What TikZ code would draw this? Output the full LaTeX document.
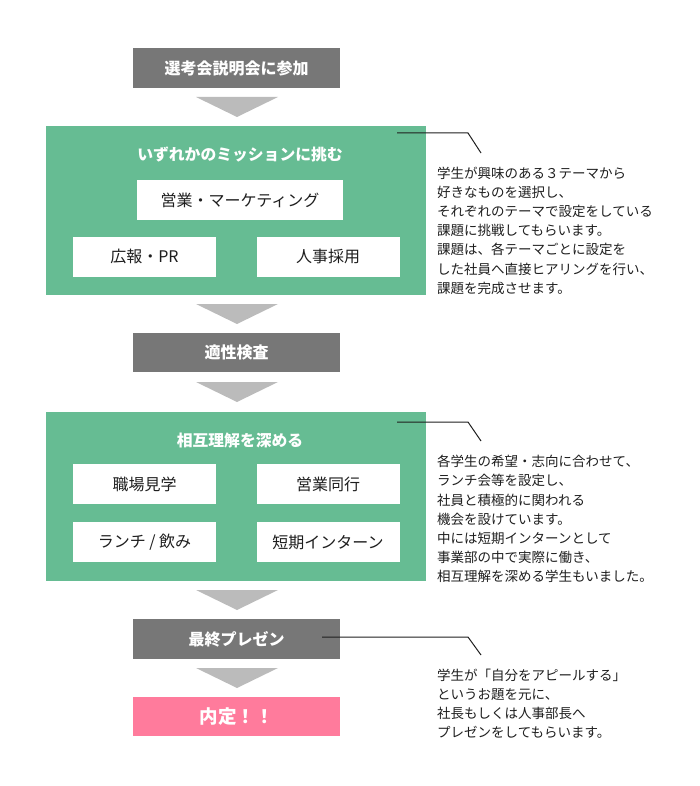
\documentclass[tikz,border=0pt]{standalone}
\usepackage{fontspec}
\setmainfont{Noto Sans CJK JP}
\usetikzlibrary{positioning}
\definecolor{stepgray}{HTML}{777777}
\definecolor{arrowgray}{HTML}{BBBBBB}
\definecolor{panelgreen}{HTML}{66BC93}
\definecolor{offerpink}{HTML}{FF7B9C}
\definecolor{ink}{HTML}{1E1E1E}

\begin{document}
\begin{tikzpicture}[x=1pt, y=-1pt,
  every node/.style={inner sep=0pt, text=ink},
  stage/.style={rectangle, fill=stepgray, minimum width=207pt, minimum height=40pt, font=\fontsize{16}{18}\selectfont\bfseries, text=white},
  offer/.style={stage, fill=offerpink, font=\fontsize{18.5}{20}\selectfont\bfseries},
  panel/.style={rectangle, fill=panelgreen, minimum width=380pt, minimum height=169pt},
  ptitle/.style={font=\fontsize{15.8}{18}\selectfont\bfseries, text=white},
  task/.style={rectangle, fill=white, minimum width=143pt, minimum height=40pt, font=\fontsize{16}{18}\selectfont},
  down/.style={fill=arrowgray},
  note/.style={anchor=north west, align=left, font=\fontsize{13.5}{19.2}\selectfont},
  leader/.style={draw=ink, line width=1pt}
]
\useasboundingbox (0,0) rectangle (700,786);

% flow steps
\node[stage] (brief) at (236.5,68) {選考会説明会に参加};
\node[panel] (mission) at (236,210.5) {};
\node[ptitle] (mtitle) at (240,155) {いずれかのミッションに挑む};
\node[task, minimum width=206pt] (sales) at (240,200) {営業・マーケティング};
\node[task] (pr) at (144.5,256.5) {広報・PR};
\node[task] (hr) at (328,256.5) {人事採用};

\node[stage, minimum height=39pt] (aptitude) at (236.5,352.5) {適性検査};
\node[panel] (mutual) at (236,496.5) {};
\node[ptitle] (utitle) at (240,441) {相互理解を深める};
\node[task] (visit) at (144.5,484) {職場見学};
\node[task] (escort) at (328,484) {営業同行};
\node[task] (lunch) at (144.5,542) {ランチ / 飲み};
\node[task] (intern) at (328,542) {短期インターン};

\node[stage] (present) at (236.5,639) {最終プレゼン};
\node[offer, minimum height=39pt] (offer) at (236.5,716.5) {内定！！};

% down arrows
\fill[down] (196,97) -- (278,97) -- (237,117) -- cycle;
\fill[down] (196,304) -- (278,304) -- (237,324) -- cycle;
\fill[down] (196,382) -- (278,382) -- (237,402) -- cycle;
\fill[down] (196,590) -- (278,590) -- (237,610) -- cycle;
\fill[down] (196,668) -- (278,668) -- (237,688) -- cycle;

% side notes
\coordinate (m1a) at (397,133);
\coordinate (m1b) at (468,133);
\coordinate (m1c) at (481,153);
\draw[leader] (m1a) -- (m1b) -- (m1c);
\node[note] (mnote) at (437,166.5) {学生が興味のある３テーマから\\好きなものを選択し、\\それぞれのテーマで設定をしている\\課題に挑戦してもらいます。\\課題は、各テーマごとに設定を\\した社員へ直接ヒアリングを行い、\\課題を完成させます。};

\coordinate (u1a) at (397,422);
\coordinate (u1b) at (468,422);
\coordinate (u1c) at (481,441);
\draw[leader] (u1a) -- (u1b) -- (u1c);
\node[note] (unote) at (437,455) {各学生の希望・志向に合わせて、\\ランチ会等を設定し、\\社員と積極的に関われる\\機会を設けています。\\中には短期インターンとして\\事業部の中で実際に働き、\\相互理解を深める学生もいました。};

\coordinate (p1a) at (322,637);
\coordinate (p1b) at (468,637);
\coordinate (p1c) at (481,655);
\draw[leader] (p1a) -- (p1b) -- (p1c);
\node[note] (pnote) at (437,668.5) {学生が「自分をアピールする」\\というお題を元に、\\社長もしくは人事部長へ\\プレゼンをしてもらいます。};
\end{tikzpicture}
\end{document}
